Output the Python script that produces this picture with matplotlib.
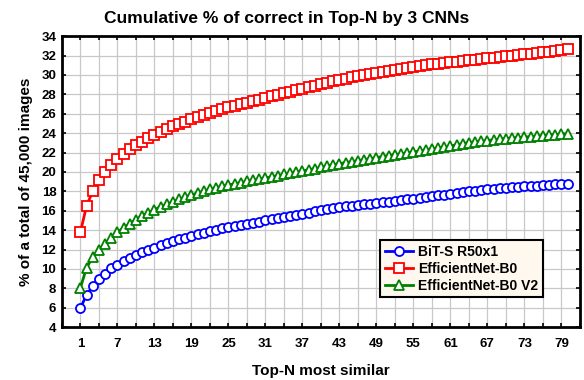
import numpy as np
import matplotlib
matplotlib.use('Agg')
import matplotlib.pyplot as plt
from matplotlib.ticker import MultipleLocator, FixedLocator

plt.rcParams['font.family'] = ['Liberation Sans', 'DejaVu Sans']
plt.rcParams['font.weight'] = 'bold'

top_n = list(range(1, 81))

bit_s = [5.96, 7.34, 8.2, 9.0, 9.5, 10.06, 10.4, 10.8, 11.1, 11.4,
         11.7, 11.98, 12.2, 12.43, 12.65, 12.85, 13.05, 13.23, 13.42, 13.6,
         13.75, 13.9, 14.05, 14.2, 14.32, 14.44, 14.55, 14.67, 14.78, 14.89,
         15.0, 15.12, 15.24, 15.35, 15.47, 15.58, 15.7, 15.81, 15.93, 16.04,
         16.15, 16.27, 16.38, 16.45, 16.52, 16.59, 16.66, 16.73, 16.8, 16.88,
         16.95, 17.03, 17.1, 17.18, 17.25, 17.33, 17.42, 17.5, 17.59, 17.67,
         17.76, 17.84, 17.92, 18.0, 18.07, 18.13, 18.2, 18.26, 18.33, 18.39,
         18.43, 18.47, 18.51, 18.55, 18.6, 18.64, 18.68, 18.72, 18.76, 18.8]

effnet_b0 = [13.8, 16.5, 18.03, 19.14, 20.0, 20.75, 21.34, 21.9, 22.33, 22.75,
             23.13, 23.5, 23.85, 24.12, 24.43, 24.7, 24.95, 25.19, 25.43, 25.64,
             25.84, 26.05, 26.26, 26.45, 26.65, 26.82, 26.98, 27.14, 27.3, 27.46,
             27.62, 27.78, 27.94, 28.1, 28.26, 28.42, 28.58, 28.74, 28.9, 29.05,
             29.2, 29.35, 29.5, 29.63, 29.76, 29.88, 30.0, 30.12, 30.24, 30.34,
             30.44, 30.54, 30.64, 30.74, 30.84, 30.92, 31.0, 31.08, 31.16, 31.24,
             31.32, 31.38, 31.45, 31.52, 31.58, 31.64, 31.7, 31.78, 31.86, 31.94,
             32.0, 32.07, 32.14, 32.2, 32.27, 32.34, 32.41, 32.48, 32.55, 32.72]

effnet_b0_v2 = [8.06, 10.12, 11.22, 11.98, 12.6, 13.22, 13.77, 14.25, 14.66, 15.08,
                15.45, 15.8, 16.1, 16.42, 16.66, 16.93, 17.17, 17.42, 17.62, 17.83,
                18.03, 18.2, 18.38, 18.52, 18.65, 18.78, 18.9, 19.02, 19.14, 19.26,
                19.38, 19.5, 19.62, 19.74, 19.86, 19.98, 20.1, 20.22, 20.34, 20.47,
                20.6, 20.73, 20.86, 20.96, 21.06, 21.16, 21.26, 21.37, 21.48, 21.58,
                21.68, 21.78, 21.87, 21.96, 22.06, 22.16, 22.27, 22.37, 22.47, 22.57,
                22.68, 22.8, 22.92, 23.03, 23.1, 23.17, 23.24, 23.31, 23.38, 23.44,
                23.49, 23.54, 23.59, 23.64, 23.69, 23.74, 23.79, 23.84, 23.89, 23.96]

labels = ['BiT-S R50x1', 'EfficientNet-B0', 'EfficientNet-B0 V2']
x_ticks = list(range(1, 80, 6))

fig = plt.figure(figsize=(5.84, 3.80), dpi=100)
ax = fig.add_axes([0.106, 0.139, 0.887, 0.766])

ax.plot(top_n, bit_s, '-', color='blue', lw=2, marker='o', ms=6.5,
        mfc='white', mec='blue', mew=1.3, label=labels[0])
ax.plot(top_n, effnet_b0, '-', color='red', lw=2, marker='s', ms=7,
        mfc='white', mec='red', mew=1.3, label=labels[1])
ax.plot(top_n, effnet_b0_v2, '-', color='green', lw=2, marker='^', ms=7,
        mfc='white', mec='green', mew=1.3, label=labels[2])

ax.set_xlim(-2, 82)
ax.set_ylim(4, 34)
ax.set_xticks(x_ticks)
ax.xaxis.set_minor_locator(FixedLocator(list(range(-2, 83, 3))))
ax.yaxis.set_major_locator(MultipleLocator(2))
ax.grid(True, which='both', axis='x', color='#c8c8c8', lw=0.9)
ax.grid(True, which='major', axis='y', color='#c8c8c8', lw=0.9)
ax.set_axisbelow(True)
ax.tick_params(which='both', direction='in', top=True, right=True,
               length=3, width=1.2, labelsize=9.5, pad=8)
ax.tick_params(axis='y', pad=4)
for lab in ax.get_xticklabels() + ax.get_yticklabels():
    lab.set_fontweight('bold')
for s in ax.spines.values():
    s.set_linewidth(2)

ax.set_xlabel('Top-N most similar', fontsize=11, fontweight='bold', labelpad=10)
ax.set_ylabel('% of a total of 45,000 images', fontsize=11, fontweight='bold', labelpad=6)
fig.suptitle('Cumulative % of correct in Top-N by 3 CNNs', fontsize=12.5,
             fontweight='bold', x=0.49, y=0.97)

leg = ax.legend(loc='upper left', bbox_to_anchor=(0.614, 0.299), borderaxespad=0,
                fancybox=False, framealpha=1, handlelength=2.0, handletextpad=0.4,
                borderpad=0.35, labelspacing=0.2, prop={'weight': 'bold', 'size': 10})
leg.get_frame().set_facecolor('#fff8ee')
leg.get_frame().set_edgecolor('black')
leg.get_frame().set_linewidth(1.5)

fig.savefig('out.png', dpi=100)
